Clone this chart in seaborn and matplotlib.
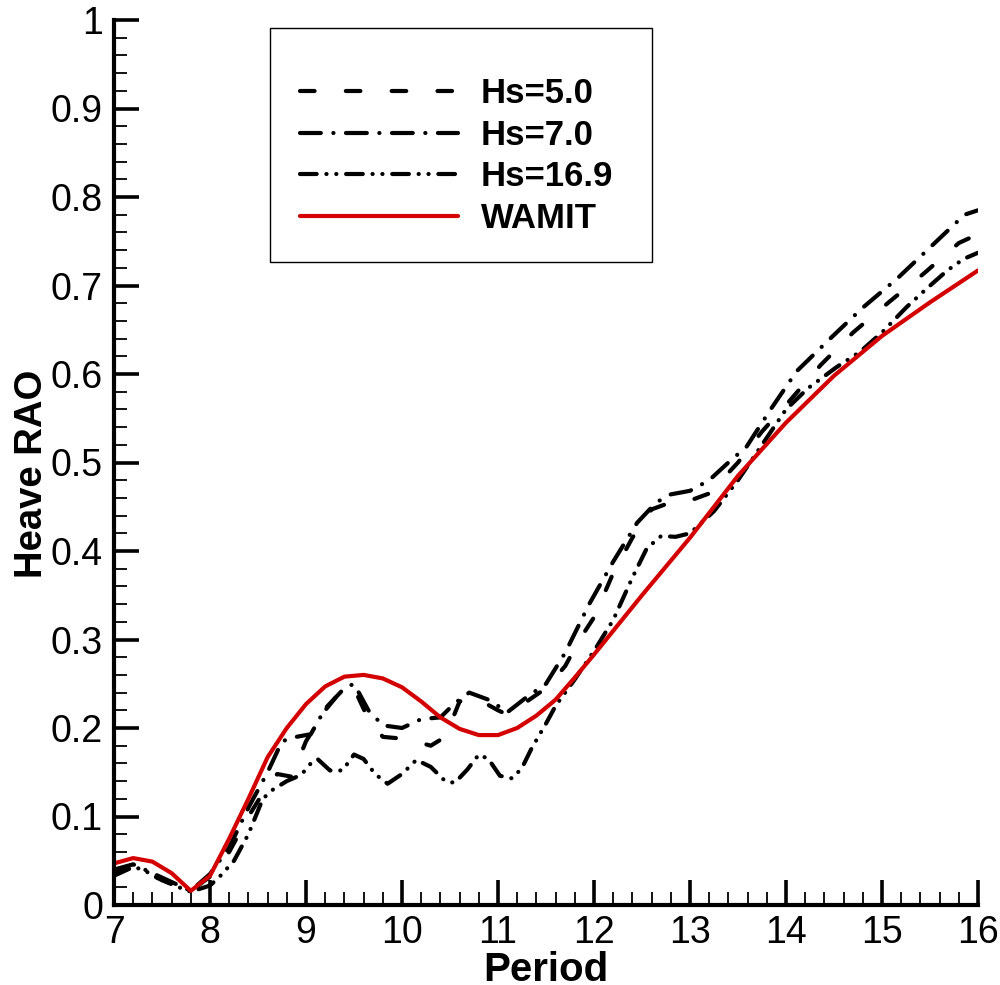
import numpy as np
import pandas as pd
import matplotlib
matplotlib.use("Agg")
import matplotlib.pyplot as plt
import seaborn as sns
from matplotlib.ticker import MultipleLocator, FixedLocator
from matplotlib.patches import Rectangle

# ---------------- data ----------------
wamit_x = [7.0, 7.2, 7.4, 7.6, 7.8, 8.0, 8.2, 8.4, 8.6, 8.8, 9.0, 9.2, 9.4, 9.6, 9.8,
           10.0, 10.2, 10.4, 10.6, 10.8, 11.0, 11.2, 11.4, 11.6, 11.8, 12.0,
           12.5, 13.0, 13.5, 14.0, 14.5, 15.0, 15.5, 16.0]
wamit_y = [0.047, 0.053, 0.049, 0.036, 0.016, 0.033, 0.075, 0.120, 0.167, 0.200, 0.227,
           0.247, 0.258, 0.260, 0.256, 0.246, 0.230, 0.212, 0.199, 0.192, 0.192, 0.200,
           0.214, 0.232, 0.257, 0.283, 0.350, 0.415, 0.485, 0.545, 0.598, 0.643, 0.681, 0.717]

hs50_x = [7.0, 7.2, 7.4, 7.6, 7.8, 8.0, 8.2, 8.4, 8.6, 8.7, 8.85, 9.0, 9.2, 9.35, 9.5,
          9.65, 9.8, 10.0, 10.2, 10.3, 10.45, 10.6, 10.75, 11.0, 11.1, 11.3, 11.5, 11.7,
          11.85, 12.0, 12.2, 12.4, 12.6, 12.8, 13.0, 13.2, 13.5, 13.75, 14.0, 14.36, 14.7,
          15.07, 15.43, 15.8, 16.0]
hs50_y = [0.035, 0.043, 0.033, 0.024, 0.016, 0.032, 0.060, 0.100, 0.135, 0.148, 0.145,
          0.185, 0.220, 0.240, 0.245, 0.210, 0.190, 0.188, 0.183, 0.180, 0.190, 0.230,
          0.235, 0.220, 0.215, 0.230, 0.245, 0.270, 0.300, 0.325, 0.375, 0.415, 0.447,
          0.455, 0.457, 0.465, 0.500, 0.535, 0.565, 0.610, 0.647, 0.681, 0.713, 0.748, 0.758]

hs70_x = [7.0, 7.2, 7.4, 7.6, 7.8, 8.0, 8.2, 8.4, 8.6, 8.75, 8.9, 9.05, 9.2, 9.4, 9.5,
          9.65, 9.8, 10.0, 10.2, 10.4, 10.55, 10.7, 10.9, 11.1, 11.3, 11.5, 11.7, 11.95,
          12.2, 12.45, 12.65, 12.8, 13.0, 13.2, 13.4, 13.59, 13.84, 14.11, 14.46, 14.8,
          15.16, 15.51, 15.86, 16.0]
hs70_y = [0.040, 0.046, 0.036, 0.026, 0.016, 0.035, 0.065, 0.110, 0.150, 0.185, 0.190,
          0.193, 0.222, 0.245, 0.250, 0.220, 0.203, 0.200, 0.210, 0.212, 0.228, 0.240,
          0.232, 0.218, 0.235, 0.250, 0.285, 0.340, 0.388, 0.432, 0.455, 0.464, 0.468,
          0.480, 0.500, 0.518, 0.560, 0.603, 0.640, 0.675, 0.708, 0.744, 0.780, 0.785]

hs169_x = [7.0, 7.2, 7.3, 7.5, 7.7, 7.8, 8.0, 8.1, 8.25, 8.4, 8.55, 8.65, 8.8, 8.95,
           9.05, 9.12, 9.25, 9.38, 9.5, 9.6, 9.72, 9.85, 10.0, 10.15, 10.3, 10.45, 10.55,
           10.68, 10.8, 10.9, 11.02, 11.15, 11.25, 11.35, 11.5, 11.6, 11.8, 12.0, 12.2,
           12.4, 12.55, 12.7, 12.85, 13.0, 13.25, 13.5, 13.75, 14.0, 14.23, 14.53, 14.77,
           15.0, 15.26, 15.45, 15.68, 15.85, 16.0]
hs169_y = [0.033, 0.043, 0.040, 0.028, 0.019, 0.015, 0.022, 0.032, 0.050, 0.080, 0.120,
           0.130, 0.140, 0.147, 0.160, 0.165, 0.152, 0.152, 0.170, 0.165, 0.148, 0.137,
           0.148, 0.164, 0.156, 0.140, 0.138, 0.153, 0.170, 0.165, 0.146, 0.143, 0.155,
           0.177, 0.205, 0.225, 0.255, 0.287, 0.322, 0.370, 0.403, 0.417, 0.416, 0.420,
           0.445, 0.480, 0.520, 0.560, 0.584, 0.608, 0.625, 0.647, 0.676, 0.695, 0.717,
           0.730, 0.737]

labels = ["Hs=5.0", "Hs=7.0", "Hs=16.9", "WAMIT"]
x_ticks = [7, 8, 9, 10, 11, 12, 13, 14, 15, 16]
y_ticks = [0, 0.1, 0.2, 0.3, 0.4, 0.5, 0.6, 0.7, 0.8, 0.9, 1.0]
y_tick_labels = ["0", "0.1", "0.2", "0.3", "0.4", "0.5", "0.6", "0.7", "0.8", "0.9", "1"]

# ---------------- style ----------------
sns.set_style("ticks")
plt.rcParams["font.family"] = ["Liberation Sans Narrow", "Liberation Sans", "DejaVu Sans"]
plt.rcParams["lines.scale_dashes"] = False
for key in ["text.color", "axes.labelcolor", "xtick.color", "ytick.color", "axes.edgecolor"]:
    plt.rcParams[key] = "black"

W, H = 1000, 985
fig = plt.figure(figsize=(W / 100, H / 100), dpi=100)
ax = fig.add_axes([114 / W, 1 - 905 / H, (978 - 114) / W, (905 - 20) / H])

lw = 3.0
styles = {
    "Hs=5.0": dict(color="black", linestyle=(0, (10.5, 22.5))),
    "Hs=7.0": dict(color="black", linestyle=(0, (15.0, 9.0, 0.1, 9.0))),
    "Hs=16.9": dict(color="black", linestyle=(0, (12.0, 7.0, 0.1, 7.0, 0.1, 7.0))),
    "WAMIT": dict(color="#d40000", linestyle="-"),
}
series = {
    "Hs=5.0": (hs50_x, hs50_y),
    "Hs=7.0": (hs70_x, hs70_y),
    "Hs=16.9": (hs169_x, hs169_y),
    "WAMIT": (wamit_x, wamit_y),
}
for name in labels:
    xs, ys = series[name]
    df = pd.DataFrame({"Period": xs, "RAO": ys})
    sns.lineplot(data=df, x="Period", y="RAO", ax=ax, sort=False, estimator=None,
                 lw=lw, label=name, dash_capstyle="round", solid_capstyle="round",
                 **styles[name])

ax.set_xlim(7, 16)
ax.set_ylim(0, 1)
ax.xaxis.set_major_locator(FixedLocator(x_ticks))
ax.yaxis.set_major_locator(FixedLocator(y_ticks))
ax.set_yticklabels(y_tick_labels)
ax.xaxis.set_minor_locator(MultipleLocator(0.2))
ax.yaxis.set_minor_locator(MultipleLocator(0.02))
for side in ["top", "right"]:
    ax.spines[side].set_visible(False)
for side in ["left", "bottom"]:
    ax.spines[side].set_linewidth(3.0)
ax.tick_params(which="major", direction="in", length=18, width=2.6, labelsize=27, pad=7,
               colors="black")
ax.tick_params(which="minor", direction="in", length=9.5, width=1.3, colors="black")
ax.tick_params(axis="y", which="major", pad=8)

ax.set_xlabel("Period", fontsize=29, fontweight="bold", family="Liberation Sans")
ax.set_ylabel("Heave RAO", fontsize=27.5, fontweight="bold", family="Liberation Sans")
ax.xaxis.set_label_coords(0.5, (905 - 951) / 885)
ax.yaxis.set_label_coords((50 - 114) / 864, (905 - 474) / 885)

fs = 25
leg = ax.legend(loc="upper left", bbox_to_anchor=((300 - 114) / 864, (905 - 77) / 885),
                frameon=False, handlelength=158 / (fs * 100 / 72), handletextpad=0.66,
                labelspacing=0.25, borderpad=0.0, borderaxespad=0.0,
                prop=dict(family="Liberation Sans", weight="bold", size=fs))
for t in leg.get_texts():
    t.set_color("black")
fig.patches.append(Rectangle((270 / W, 1 - 262 / H), (652 - 270) / W, (262 - 28) / H,
                             transform=fig.transFigure, fill=False, ec="black", lw=1.0))

fig.savefig("out.png", dpi=100)
